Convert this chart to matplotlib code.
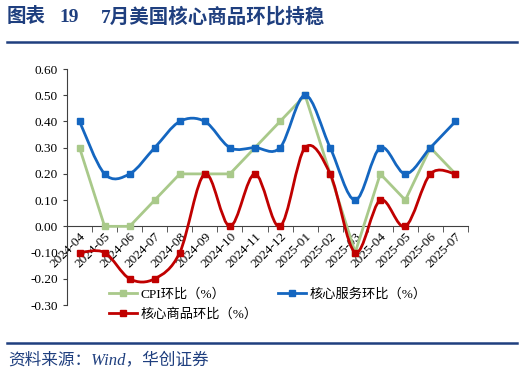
import matplotlib
matplotlib.use("Agg")
import matplotlib.pyplot as plt
from matplotlib.path import Path
from matplotlib.patches import PathPatch
from matplotlib.lines import Line2D
import numpy as np

plt.rcParams['font.family'] = ['Liberation Serif', 'Noto Sans CJK SC']

months = ['2024-04', '2024-05', '2024-06', '2024-07', '2024-08', '2024-09',
          '2024-10', '2024-11', '2024-12', '2025-01', '2025-02', '2025-03',
          '2025-04', '2025-05', '2025-06', '2025-07']
cpi = [0.3, 0.0, 0.0, 0.1, 0.2, 0.2, 0.2, 0.3, 0.4, 0.5, 0.2, -0.1, 0.2, 0.1, 0.3, 0.2]
core_services = [0.4, 0.2, 0.2, 0.3, 0.4, 0.4, 0.3, 0.3, 0.3, 0.5, 0.3, 0.1, 0.3, 0.2, 0.3, 0.4]
core_goods = [-0.1, -0.1, -0.2, -0.2, -0.1, 0.2, 0.0, 0.2, 0.0, 0.3, 0.2, -0.1, 0.1, 0.0, 0.2, 0.2]

c_cpi = '#a9c98a'
c_srv = '#1466c0'
c_gds = '#c00000'
navy = '#1f3f7f'
fam = ['Liberation Serif', 'Noto Sans CJK SC']


def smooth_path(xs, ys):
    # catmull-rom style bezier, like excel's smoothed line
    p = np.column_stack([xs, ys]).astype(float)
    n = len(p)
    verts = [p[0]]
    codes = [Path.MOVETO]
    for i in range(n - 1):
        p0 = p[i - 1] if i > 0 else p[i]
        p3 = p[i + 2] if i + 2 < n else p[i + 1]
        c1 = p[i] + (p[i + 1] - p0) / 6
        c2 = p[i + 1] - (p3 - p[i]) / 6
        verts += [c1, c2, p[i + 1]]
        codes += [Path.CURVE4] * 3
    return Path(verts, codes)


fig = plt.figure(figsize=(5.24, 3.75), dpi=100)
ax = fig.add_axes([67 / 524, 1 - 305 / 375, 401 / 524, 236 / 375])

x = np.arange(len(months))
lw = 2.0

ax.plot(x, cpi, color=c_cpi, lw=lw, marker='s', ms=5, zorder=3)

for vals, col in [(core_services, c_srv), (core_goods, c_gds)]:
    ax.add_patch(PathPatch(smooth_path(x, vals), facecolor='none',
                           edgecolor=col, lw=lw, zorder=4))
    ax.plot(x, vals, ls='none', color=col, marker='s', ms=5, zorder=5)

ax.set_xlim(-0.5, len(months) - 0.5)
ax.set_ylim(-0.3, 0.6)
yt = np.arange(-0.3, 0.61, 0.1)
ax.set_yticks(yt)
ax.set_yticklabels([f'{v:.2f}' for v in yt], fontsize=9.5)

ax.spines['top'].set_visible(False)
ax.spines['right'].set_visible(False)
ax.spines['bottom'].set_position(('data', 0))
ax.spines['bottom'].set_color('#404040')
ax.spines['left'].set_color('#404040')

ax.set_xticks(x)
ax.set_xticklabels(months, rotation=45, ha='right', va='top',
                   rotation_mode='anchor', fontsize=9.5)
ax.tick_params(axis='x', which='major', length=0, pad=3)
ax.set_xticks(np.arange(-0.5, len(months), 1), minor=True)
ax.tick_params(axis='x', which='minor', length=4, direction='out', color='#404040')
ax.tick_params(axis='y', length=3, direction='out', color='#404040')

# legend: matplotlib fills by column, so order is cpi, goods | services
handles = [
    Line2D([], [], color=c_cpi, lw=lw, marker='s', ms=5),
    Line2D([], [], color=c_gds, lw=lw, marker='s', ms=5),
    Line2D([], [], color=c_srv, lw=lw, marker='s', ms=5),
]
labels = ['CPI环比（%）', '核心商品环比（%）', '核心服务环比（%）']
fig.legend(handles, labels, loc='upper left', bbox_to_anchor=(104 / 524, 1 - 283 / 375),
           ncol=2, frameon=False, handlelength=2.1, handletextpad=0.3,
           columnspacing=1.5, labelspacing=0.55, borderaxespad=0,
           prop={'family': fam, 'size': 9.5})

fig.text(7 / 524, 1 - 17 / 375, '图表', color=navy, fontsize=14,
         fontweight='bold', va='center', ha='left', family=fam)
fig.text(59 / 524, 1 - 17 / 375, '19', color=navy, fontsize=14,
         fontweight='bold', va='center', ha='left', family=fam)
fig.text(101 / 524, 1 - 17 / 375, '7月美国核心商品环比持稳', color=navy, fontsize=14,
         fontweight='bold', va='center', ha='left', family=fam)
fig.add_artist(Line2D([7 / 524, 517 / 524], [1 - 42 / 375, 1 - 42 / 375],
                      color=navy, lw=1.8, transform=fig.transFigure))
fig.add_artist(Line2D([7 / 524, 517 / 524], [1 - 343 / 375, 1 - 343 / 375],
                      color=navy, lw=1.8, transform=fig.transFigure))
fig.text(8 / 524, 1 - 360 / 375, '资料来源：Wind，华创证券', color=navy,
         fontsize=12, style='italic', va='center', ha='left', family=fam)

fig.savefig('out.png', dpi=100)
